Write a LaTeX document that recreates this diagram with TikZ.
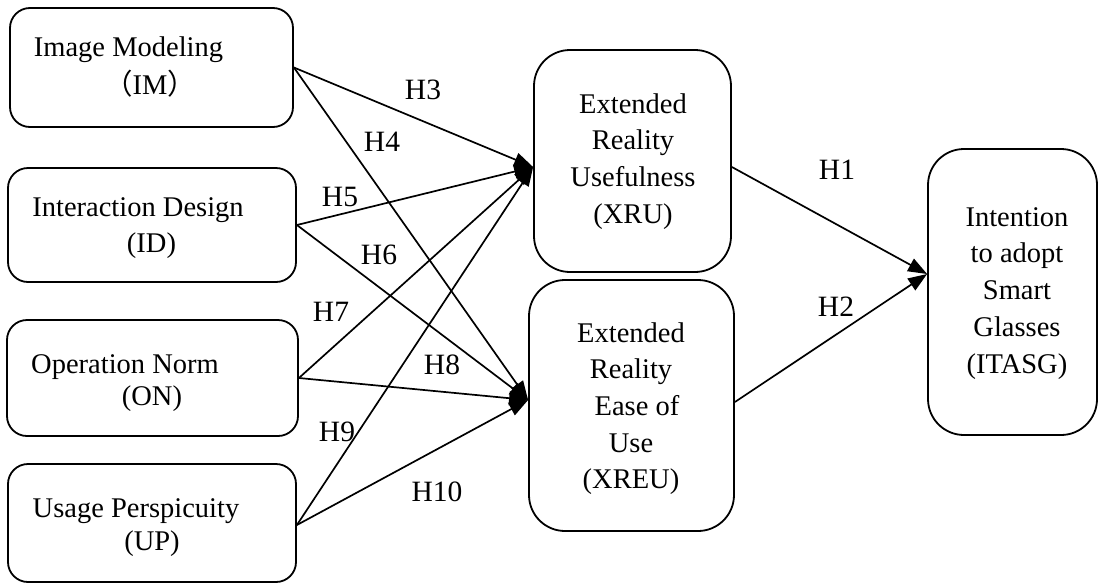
\documentclass[tikz,border=0pt]{standalone}
\usepackage{fontspec}
\setmainfont{Liberation Serif}
\newfontfamily\cjk{Noto Sans CJK SC}
\usetikzlibrary{arrows.meta}
\begin{document}
\begin{tikzpicture}[x=1pt,y=-1pt,
  lbox/.style={draw, line width=1.8pt, rounded corners=20pt, inner sep=0pt},
  rbox/.style={draw, line width=1.8pt, rounded corners=36pt, inner sep=0pt},
  txt/.style={inner sep=0pt, anchor=base, font=\fontsize{28.5}{34}\selectfont},
  hlab/.style={inner sep=0pt, anchor=center, font=\fontsize{29.5}{34}\selectfont},
  arr/.style={line width=1.7pt, -{Triangle[length=19pt,width=14pt]}}]
\useasboundingbox (0,0) rectangle (1099,584);

% boxes
\node[lbox, minimum width=283pt, minimum height=119pt] (im) at (151.5,67.5) {};
\node[lbox, minimum width=288pt, minimum height=114pt] (id) at (152,225) {};
\node[lbox, minimum width=291pt, minimum height=116pt] (on) at (152.5,378) {};
\node[lbox, minimum width=288pt, minimum height=118pt] (up) at (152,523) {};
\node[rbox, minimum width=197pt, minimum height=222pt] (xru) at (632.5,161) {};
\node[rbox, minimum width=205pt, minimum height=251pt] (xreu) at (631.5,405.5) {};
\node[rbox, minimum width=169pt, minimum height=286pt] (itasg) at (1012.5,292) {};

% left texts
\node[txt] (imA) at (128.5,56) {Image Modeling};
\node[txt] (imB) at (150,94) {{\cjk （}IM{\cjk ）}};
\node[txt] (idA) at (138,216) {Interaction Design};
\node[txt] (idB) at (151.5,252) {(ID)};
\node[txt] (onA) at (125,373) {Operation Norm};
\node[txt] (onB) at (152,405) {(ON)};
\node[txt] (upA) at (136,517) {Usage Perspicuity};
\node[txt] (upB) at (152,550) {(UP)};

% right texts
\foreach \t [count=\i] in {Extended, Reality, Usefulness, (XRU)}
  \node[txt] (xrut\i) at ({633},{113+36.7*(\i-1)}) {\t};
\node[txt] (xreut1) at (631,342) {Extended};
\node[txt] (xreut2) at (631,378) {Reality};
\node[txt] (xreut3) at (637,415) {Ease of};
\node[txt] (xreut4) at (631,452) {Use};
\node[txt] (xreut5) at (631,488) {(XREU)};
\foreach \t [count=\i] in {Intention, to adopt, Smart, Glasses, (ITASG)}
  \node[txt] (itt\i) at ({1017},{226+36.8*(\i-1)}) {\t};

% connectors
\draw[arr] (im.east) -- ([yshift=-6pt]xru.west);
\draw[arr] (im.east) -- ([yshift=5.5pt]xreu.west);
\draw[arr] (id.east) -- ([yshift=-6pt]xru.west);
\draw[arr] (id.east) -- ([yshift=5.5pt]xreu.west);
\draw[arr] (on.east) -- ([yshift=-6pt]xru.west);
\draw[arr] (on.east) -- ([yshift=5.5pt]xreu.west);
\draw[arr] ([yshift=-2pt]up.east) -- ([yshift=-6pt]xru.west);
\draw[arr] ([yshift=-2pt]up.east) -- ([yshift=5.5pt]xreu.west);
\draw[arr] ([yshift=-6pt]xru.east) -- ([yshift=18pt]itasg.west);
\draw[arr] ([yshift=3.5pt]xreu.east) -- ([yshift=18pt]itasg.west);

% labels
\node[hlab] (h3) at (423,90) {H3};
\node[hlab] (h4) at (382,142) {H4};
\node[hlab] (h5) at (340,197) {H5};
\node[hlab] (h6) at (379,255) {H6};
\node[hlab] (h7) at (331,312) {H7};
\node[hlab] (h8) at (442,365) {H8};
\node[hlab] (h9) at (337,432) {H9};
\node[hlab] (h10) at (437,492) {H10};
\node[hlab] (h1) at (837,170) {H1};
\node[hlab] (h2) at (836,307) {H2};
\end{tikzpicture}
\end{document}
